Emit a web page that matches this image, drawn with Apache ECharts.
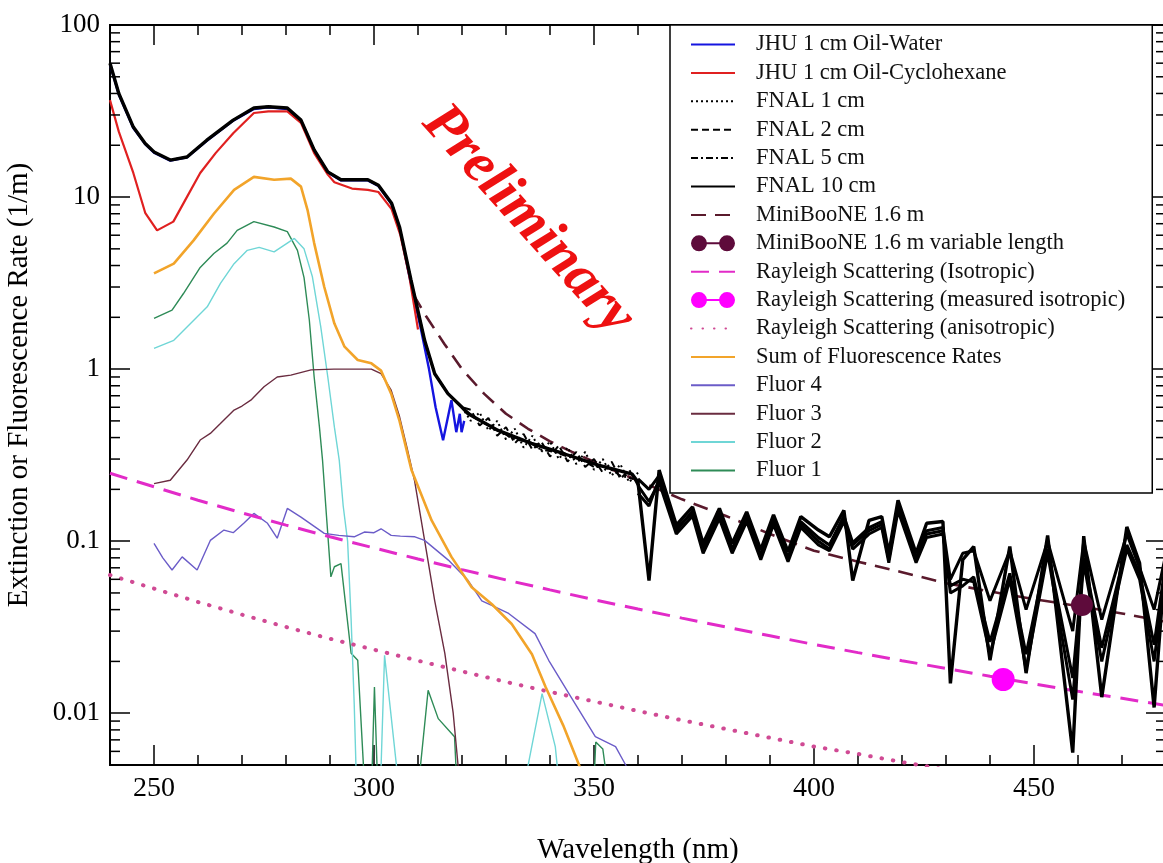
<!DOCTYPE html>
<html lang="en">
<head>
    <meta charset="UTF-8">
    <title>Extinction and fluorescence</title>
    <script src="https://cdn.jsdelivr.net/npm/echarts@6/dist/echarts.min.js"></script>
    <style>
        html, body { margin: 0; padding: 0; background: #fff; }
        #main { width: 1163px; height: 863px; }
    </style>
</head>
<body>
<div id="main"></div>

<script>
    // axis range
    var xMin = 240, xMax = 480;
    var yMin = 0.005, yMax = 100;
    // minor ticks of the log axis (2..9 of each decade)
    var yMinorTicks = [0.006, 0.007, 0.008, 0.009,
        0.02, 0.03, 0.04, 0.05, 0.06, 0.07, 0.08, 0.09,
        0.2, 0.3, 0.4, 0.5, 0.6, 0.7, 0.8, 0.9,
        2, 3, 4, 5, 6, 7, 8, 9,
        20, 30, 40, 50, 60, 70, 80, 90];

    // [wavelength nm, 1/m]
    var jhuWater = [[240, 59], [242, 39.5], [245.3, 25.2], [248, 20.3], [250, 18.1], [253.7, 16.3], [257.5, 17],
        [262, 21.2], [268, 27.8], [272.7, 32.5], [276, 33.2], [280.3, 32.5], [283.4, 27.7], [286.4, 18.6],
        [289.5, 13.9], [292.5, 12.5], [298.6, 12.5], [301, 11.6], [304, 9.1], [305.8, 6.6], [308, 3.5],
        [310.7, 1.69], [312.5, 1.0], [314, 0.6], [315.7, 0.386], [317.6, 0.66], [318.7, 0.43], [319.5, 0.55],
        [319.9, 0.43], [320.5, 0.5]];
    var jhuCyclo = [[240, 36.6], [242, 24], [245.3, 13.8], [248, 8.1], [250.7, 6.4], [254.4, 7.2], [257, 9.5],
        [260.5, 13.8], [264, 18], [268, 23.5], [272.7, 30.8], [276, 31.5], [280.3, 31.5], [283.4, 27],
        [286.4, 18], [289.5, 13.5], [291, 12.2], [295, 11.2], [298.6, 11], [301, 10.7], [304, 8.5], [306, 6],
        [308, 3.5], [310, 1.7]];
    var fnalShared = [[240, 60], [242, 40], [245.3, 25.5], [248, 20.5], [250, 18.3], [253.7, 16.4], [257.5, 17.1],
        [262, 21.4], [268, 28], [272.7, 32.9], [276, 33.5], [280.3, 32.9], [283.4, 28], [286.4, 18.8],
        [289.5, 14], [292.5, 12.6], [298.6, 12.6], [301, 11.7], [304, 9.2], [305.8, 6.7], [308.4, 3.3],
        [311.5, 1.47], [313.8, 0.94], [316.8, 0.72], [320, 0.6]];
    var fnal1Tail = [[322, 0.5], [324, 0.56], [326, 0.44], [328, 0.5], [330, 0.39], [332, 0.45], [334, 0.35],
        [336, 0.41], [338, 0.33], [340, 0.38], [342, 0.3], [344, 0.35], [346, 0.28], [348, 0.33], [350, 0.26],
        [352, 0.3], [354, 0.24], [356, 0.28], [358, 0.22], [360, 0.25]];
    var fnal2Tail = [[322, 0.58], [324, 0.47], [326, 0.52], [328, 0.41], [330, 0.46], [332, 0.37], [334, 0.42],
        [336, 0.34], [338, 0.38], [340, 0.31], [342, 0.36], [344, 0.29], [346, 0.33], [348, 0.27], [350, 0.3],
        [352, 0.25], [354, 0.29], [356, 0.23], [358, 0.26], [360, 0.21]];
    var fnal5Tail = [[323, 0.52], [326, 0.47], [329, 0.43], [332, 0.39], [335, 0.38], [338, 0.34], [341, 0.33],
        [344, 0.31], [347, 0.3], [350, 0.27], [353, 0.27], [356, 0.24], [359, 0.23]];
    var fnal10Tail = [[321.4, 0.55], [328.2, 0.44], [335.8, 0.37], [343.5, 0.32], [351, 0.277], [358.7, 0.245]];

    // the long-wavelength part, several overlapping runs
    var zigA = [[360, 0.22], [362.5, 0.059], [364.8, 0.259], [368.7, 0.124], [372.4, 0.158], [374.8, 0.097],
        [378.5, 0.155], [381.4, 0.097], [384.7, 0.148], [387.9, 0.089], [390.8, 0.142], [394.1, 0.087],
        [397, 0.139], [401, 0.116], [403.5, 0.106], [406.8, 0.151], [408.8, 0.059], [412.5, 0.132],
        [415.4, 0.139], [417, 0.085], [419.1, 0.173], [423.2, 0.085], [425.6, 0.127], [429.3, 0.13],
        [431, 0.0149], [433.8, 0.078], [436.3, 0.093], [440, 0.0203], [444.5, 0.093], [448.2, 0.0171],
        [453.1, 0.108], [458.8, 0.0059], [461.3, 0.107], [465.4, 0.0124], [471.1, 0.121], [474, 0.0745],
        [477.3, 0.0108], [480.2, 0.101]];
    var zigB = [[360, 0.19], [362.5, 0.16], [364.8, 0.23], [368.7, 0.115], [372.4, 0.15], [374.8, 0.09],
        [378.5, 0.145], [381.4, 0.09], [384.7, 0.14], [387.9, 0.082], [390.8, 0.135], [394.1, 0.08],
        [397, 0.13], [401, 0.105], [403.5, 0.095], [406.8, 0.14], [408.8, 0.098], [412.5, 0.12],
        [415.4, 0.13], [417, 0.08], [419.1, 0.16], [423.2, 0.08], [425.6, 0.115], [429.3, 0.12],
        [431, 0.06], [433.8, 0.085], [436.3, 0.088], [440, 0.045], [444.5, 0.088], [448.2, 0.04],
        [453.1, 0.1], [458.8, 0.03], [461.3, 0.1], [465.4, 0.035], [471.1, 0.11], [474, 0.07],
        [477.3, 0.04], [480.2, 0.09]];
    var zigC = [[360, 0.21], [362.5, 0.17], [364.8, 0.22], [368.7, 0.11], [372.4, 0.14], [374.8, 0.085],
        [378.5, 0.135], [381.4, 0.085], [384.7, 0.13], [387.9, 0.078], [390.8, 0.125], [394.1, 0.076],
        [397, 0.12], [401, 0.095], [403.5, 0.088], [406.8, 0.13], [408.8, 0.09], [412.5, 0.11],
        [415.4, 0.12], [417, 0.075], [419.1, 0.15], [423.2, 0.075], [425.6, 0.105], [429.3, 0.11],
        [431, 0.055], [433.8, 0.06], [436.3, 0.058], [440, 0.022], [444.5, 0.06], [448.2, 0.018],
        [453.1, 0.085], [458.8, 0.012], [461.3, 0.075], [465.4, 0.02], [471.1, 0.09], [474, 0.06],
        [477.3, 0.02], [480.2, 0.08]];
    var zigD = [[360, 0.23], [362.5, 0.2], [364.8, 0.24], [368.7, 0.12], [372.4, 0.145], [374.8, 0.092],
        [378.5, 0.14], [381.4, 0.09], [384.7, 0.135], [387.9, 0.083], [390.8, 0.13], [394.1, 0.08],
        [397, 0.125], [401, 0.1], [403.5, 0.09], [406.8, 0.135], [408.8, 0.095], [412.5, 0.115],
        [415.4, 0.125], [417, 0.078], [419.1, 0.16], [423.2, 0.078], [425.6, 0.11], [429.3, 0.115],
        [431, 0.05], [433.8, 0.055], [436.3, 0.062], [440, 0.026], [444.5, 0.065], [448.2, 0.022],
        [453.1, 0.09], [458.8, 0.016], [461.3, 0.08], [465.4, 0.024], [471.1, 0.095], [474, 0.065],
        [477.3, 0.025], [480.2, 0.085]];

    var miniBooNE = [[309, 2.7], [312, 2.0], [316, 1.4], [320, 1.0], [325, 0.72], [330, 0.55], [335, 0.45],
        [340, 0.38], [345, 0.33], [350, 0.29], [355, 0.255], [360, 0.225], [370, 0.175], [380, 0.14],
        [390, 0.11], [400, 0.088], [410, 0.076], [420, 0.066], [430, 0.057], [440, 0.051], [450, 0.046],
        [460, 0.042], [470, 0.038], [480, 0.034]];
    var miniBooNEVar = [[460.9, 0.0425]];

    var rayIso = [[240, 0.248], [250, 0.207], [260, 0.173], [270, 0.146], [280, 0.124], [290, 0.106],
        [300, 0.0913], [310, 0.0788], [320, 0.0683], [330, 0.0595], [340, 0.0521], [350, 0.0457],
        [360, 0.0403], [370, 0.0357], [380, 0.0317], [390, 0.0282], [400, 0.0251], [410, 0.0225],
        [420, 0.0202], [430, 0.0182], [440, 0.0164], [450, 0.0148], [460, 0.0134], [470, 0.0122],
        [480, 0.0111]];
    var rayMeasured = [[443, 0.0157]];
    var rayAniso = [[240, 0.0635], [250, 0.053], [260, 0.0443], [270, 0.0374], [280, 0.0317], [290, 0.0271],
        [300, 0.0234], [310, 0.0202], [320, 0.0175], [330, 0.0152], [340, 0.0133], [350, 0.0117],
        [360, 0.0103], [370, 0.0091], [380, 0.0081], [390, 0.0072], [400, 0.0064], [410, 0.0058],
        [420, 0.0052], [430, 0.0047], [440, 0.0042], [450, 0.0038], [460, 0.0034], [470, 0.0031],
        [480, 0.0028]];

    var sumFluor = [[250, 3.6], [254.5, 4.1], [259, 5.6], [263.6, 8.0], [268.2, 11], [272.7, 13.1], [277.3, 12.6],
        [281.1, 12.8], [283.4, 11.5], [284.9, 8.4], [286.4, 5.4], [288.7, 3.0], [291, 1.84], [293.3, 1.35],
        [296.3, 1.13], [299.4, 1.08], [301.6, 0.98], [303.9, 0.72], [305.8, 0.5], [308.5, 0.26], [313.1, 0.132],
        [317.6, 0.081], [322.2, 0.054], [326.8, 0.043], [331.3, 0.033], [335.9, 0.022], [339, 0.0142],
        [343, 0.0085], [346.6, 0.005], [348, 0.004]];
    var fluor4 = [[250, 0.097], [252, 0.08], [254.1, 0.068], [256.4, 0.081], [259.8, 0.068], [262.8, 0.101],
        [265.9, 0.116], [268, 0.112], [270.4, 0.127], [272.7, 0.145], [275.8, 0.127], [278, 0.104],
        [280.3, 0.155], [283.4, 0.138], [288.7, 0.111], [292, 0.108], [295.5, 0.106], [297.8, 0.113],
        [300, 0.112], [301.6, 0.118], [303.9, 0.108], [306, 0.107], [309.3, 0.106], [311.5, 0.101],
        [316.9, 0.0776], [321.4, 0.059], [324.5, 0.045], [327, 0.042], [330.6, 0.038], [336.6, 0.029],
        [339.7, 0.0203], [344.3, 0.013], [350.3, 0.0073], [354.9, 0.0064], [357.2, 0.005], [358, 0.0045]];
    var fluor3 = [[250, 0.216], [253.7, 0.226], [257.5, 0.296], [260.5, 0.387], [262.8, 0.423], [265.1, 0.483],
        [268.2, 0.578], [270, 0.61], [272, 0.66], [275, 0.789], [278, 0.9], [281.1, 0.923], [285.7, 0.99],
        [290.9, 1.0], [299.4, 1.0], [301.6, 0.94], [303.9, 0.755], [305.8, 0.53], [307.5, 0.35],
        [309.2, 0.226], [311.5, 0.101], [313.8, 0.045], [316.1, 0.0223], [318, 0.01], [319.1, 0.005],
        [319.5, 0.0045]];
    var fluor2 = [[250, 1.32], [254.5, 1.47], [258.3, 1.84], [262.1, 2.3], [265.1, 3.15], [268.2, 4.1],
        [271.2, 4.9], [273.9, 5.1], [277.3, 4.8], [280.3, 5.4], [281.9, 5.75], [284.1, 5.0], [286, 3.44],
        [287.9, 1.76], [289.5, 0.9], [291, 0.46], [292.1, 0.296], [293, 0.16], [294, 0.1], [294.8, 0.035],
        [295.5, 0.0114], [296, 0.004], [301.5, 0.004], [302.4, 0.0217], [305.5, 0.004], [334.3, 0.004],
        [338.2, 0.013], [341.2, 0.0064], [342, 0.004]];
    var fluor1 = [[250, 1.97], [254.1, 2.2], [256.7, 2.75], [260.5, 3.9], [263.6, 4.7], [266.6, 5.4],
        [268.9, 6.4], [272.7, 7.2], [277.3, 6.7], [280.3, 6.3], [282.6, 4.9], [284.1, 3.4], [285.3, 1.93],
        [286.4, 0.9], [287.6, 0.46], [288.3, 0.296], [289.2, 0.14], [290.2, 0.062], [291, 0.071],
        [292.5, 0.074], [294.8, 0.0223], [296.3, 0.0203], [297.8, 0.004], [299.5, 0.004], [300.1, 0.0142],
        [300.8, 0.004], [310.2, 0.004], [312.3, 0.0136], [314.6, 0.0093], [318.3, 0.0073], [318.8, 0.004],
        [350, 0.004], [350.4, 0.0068], [352, 0.0062], [353, 0.004]];

    var serif = '"Liberation Serif", "DejaVu Serif", serif';
    var pairIcon = 'path://M0,9A8,8 0 1,1 16,9A8,8 0 1,1 0,9ZM15,8L29,8L29,10L15,10ZM28,9A8,8 0 1,1 44,9A8,8 0 1,1 28,9Z';

    function line(name, data, color, width, type, extra) {
        var s = {
            name: name,
            type: 'line',
            data: data,
            symbol: 'none',
            clip: true,
            lineStyle: {color: color, width: width, type: type || 'solid'},
            itemStyle: {color: color}
        };
        if (extra) {
            for (var k in extra) s[k] = extra[k];
        }
        return s;
    }

    function minorTicks(params, api) {
        var v = api.value(1);
        var a = api.coord([xMin, v]);
        var b = api.coord([xMax, v]);
        var st = {stroke: '#000', lineWidth: 1.5};
        return {
            type: 'group',
            children: [
                {type: 'line', shape: {x1: a[0], y1: a[1], x2: a[0] + 10, y2: a[1]}, style: st},
                {type: 'line', shape: {x1: b[0] - 10, y1: b[1], x2: b[0], y2: b[1]}, style: st}
            ]
        };
    }

    function xAxisDef(pos, major) {
        return {
            type: 'value',
            position: pos,
            min: xMin,
            max: xMax,
            interval: major ? undefined : 10,
            splitLine: {show: false},
            axisLine: {onZero: false, lineStyle: {color: '#000', width: 2}},
            axisTick: {inside: true, length: major ? 20 : 10, lineStyle: {color: '#000', width: 1.5}},
            axisLabel: {
                show: major && pos === 'bottom',
                showMinLabel: false,
                showMaxLabel: false,
                color: '#000',
                fontFamily: serif,
                fontSize: 28,
                margin: 10
            },
            name: (major && pos === 'bottom') ? 'Wavelength (nm)' : '',
            nameLocation: 'middle',
            nameGap: 71,
            nameTextStyle: {color: '#000', fontFamily: serif, fontSize: 29}
        };
    }

    function yAxisDef(pos) {
        return {
            type: 'log',
            logBase: 10,
            position: pos,
            min: yMin,
            max: yMax,
            splitLine: {show: false},
            axisLine: {onZero: false, lineStyle: {color: '#000', width: 2}},
            axisTick: {inside: true, length: 20, lineStyle: {color: '#000', width: 1.5}},
            axisLabel: {
                show: pos === 'left',
                showMinLabel: false,
                color: '#000',
                fontFamily: serif,
                fontSize: 27,
                margin: 10
            },
            name: pos === 'left' ? 'Extinction or Fluorescence Rate (1/m)' : '',
            nameLocation: 'middle',
            nameGap: 76,
            nameTextStyle: {color: '#000', fontFamily: serif, fontSize: 29, padding: [0, 0, 0, 20]}
        };
    }

    var myChart = echarts.init(document.getElementById('main'));

    var option = {
        animation: false,
        backgroundColor: '#fff',
        grid: {left: 110, right: -3, top: 25, bottom: 98, containLabel: false, outerBoundsMode: 'none'},
        xAxis: [xAxisDef('bottom', true), xAxisDef('bottom', false), xAxisDef('top', true), xAxisDef('top', false)],
        yAxis: [yAxisDef('left'), yAxisDef('right')],
        legend: {
            orient: 'vertical',
            left: 670,
            top: 25,
            padding: [8, 27, 11, 20],
            itemWidth: 44,
            itemHeight: 20,
            itemGap: 5.4,
            backgroundColor: '#fff',
            borderColor: '#000',
            borderWidth: 1.5,
            selectedMode: false,
            itemStyle: {opacity: 0},
            textStyle: {color: '#111', fontFamily: serif, fontSize: 22.5, lineHeight: 20, padding: [0, 0, 0, 16]},
            data: [
                'JHU 1 cm Oil-Water',
                'JHU 1 cm Oil-Cyclohexane',
                'FNAL 1 cm',
                'FNAL 2 cm',
                'FNAL 5 cm',
                'FNAL 10 cm',
                'MiniBooNE 1.6 m',
                {name: 'MiniBooNE 1.6 m variable length', icon: pairIcon, itemStyle: {opacity: 1}},
                'Rayleigh Scattering (Isotropic)',
                {name: 'Rayleigh Scattering (measured isotropic)', icon: pairIcon, itemStyle: {opacity: 1}},
                'Rayleigh Scattering (anisotropic)',
                'Sum of Fluorescence Rates',
                'Fluor 4',
                'Fluor 3',
                'Fluor 2',
                'Fluor 1'
            ]
        },
        graphic: [{
            type: 'text',
            x: 528,
            y: 220,
            rotation: -48 * Math.PI / 180,
            z: 50,
            style: {
                text: 'Preliminary',
                fill: '#ee1111',
                font: 'italic bold 58px "Liberation Serif"',
                textAlign: 'center',
                textVerticalAlign: 'middle'
            }
        }],
        series: [
            line('Fluor 1', fluor1, '#2e8b57', 1.4),
            line('Fluor 2', fluor2, '#6fd6d6', 1.4),
            line('Fluor 3', fluor3, '#6a2c40', 1.4),
            line('Fluor 4', fluor4, '#6b5cc8', 1.4),
            line('Rayleigh Scattering (anisotropic)', rayAniso, '#d04a94', 4, [0.5, 11], {lineStyle: {color: '#d04a94', width: 4, type: [0.5, 11], cap: 'round'}}),
            line('Rayleigh Scattering (Isotropic)', rayIso, '#e22bc8', 3, [18, 10]),
            line('Sum of Fluorescence Rates', sumFluor, '#f2a42a', 2.6),
            line('JHU 1 cm Oil-Water', jhuWater, '#1515e0', 2.4),
            line('JHU 1 cm Oil-Cyclohexane', jhuCyclo, '#e02020', 2.2),
            line('MiniBooNE 1.6 m', miniBooNE, '#5a1a2c', 2.6, [15, 9]),
            line('FNAL 1 cm', fnalShared.concat(fnal1Tail), '#000', 2, [2, 3]),
            line('FNAL 2 cm', fnalShared.concat(fnal2Tail), '#000', 2, [7, 4]),
            line('FNAL 5 cm', fnalShared.concat(fnal5Tail), '#000', 2, [7, 3, 2, 3]),
            line('FNAL 10 cm', fnalShared.concat(fnal10Tail, zigA), '#000', 3.4),
            line('FNAL run b', zigB, '#000', 3),
            line('FNAL run c', zigC, '#000', 3),
            line('FNAL run d', zigD, '#000', 3),
            {
                name: 'MiniBooNE 1.6 m variable length',
                type: 'scatter',
                data: miniBooNEVar,
                symbolSize: 22,
                itemStyle: {color: '#5e0b3b', opacity: 1},
                z: 5
            },
            {
                name: 'Rayleigh Scattering (measured isotropic)',
                type: 'scatter',
                data: rayMeasured,
                symbolSize: 23,
                itemStyle: {color: '#ff00ff', opacity: 1},
                z: 5
            },
            {
                name: 'y minor ticks',
                type: 'custom',
                data: yMinorTicks.map(function (v) { return [xMin, v]; }),
                renderItem: minorTicks,
                clip: false,
                silent: true,
                z: 10
            }
        ]
    };

    myChart.setOption(option);
</script>
</body>
</html>
